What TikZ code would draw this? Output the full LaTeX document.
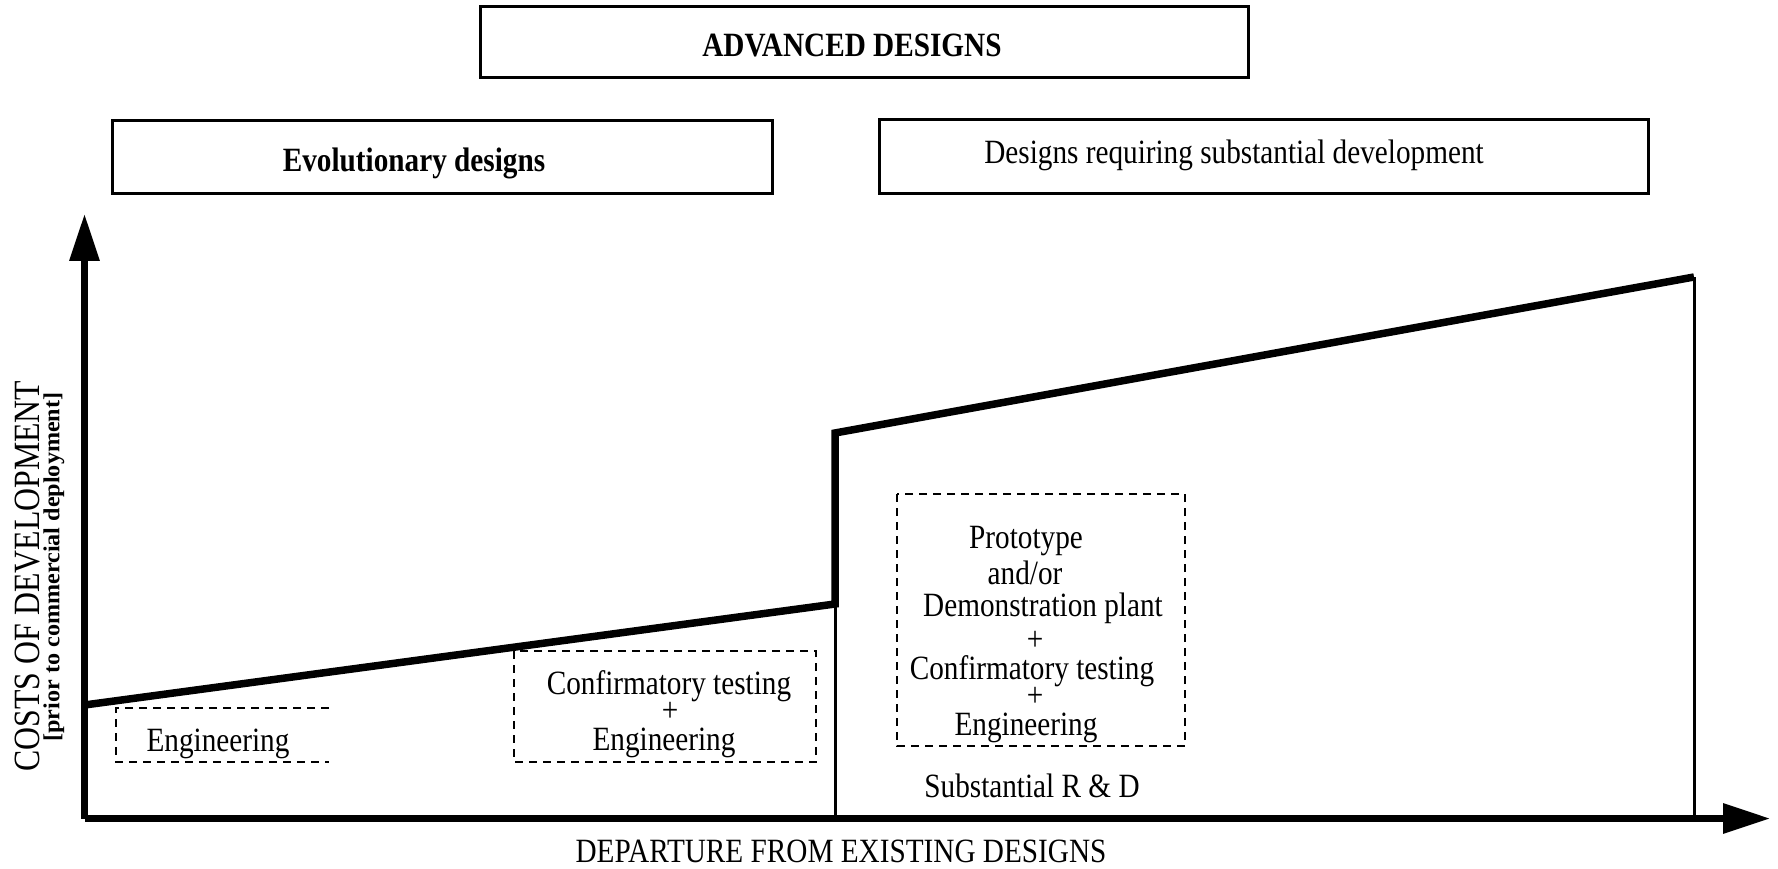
\documentclass[tikz,border=0pt]{standalone}
\usepackage{fontspec}
\setmainfont{Liberation Serif}[FakeStretch=0.86]
\newfontfamily\widefont{Liberation Serif}[FakeStretch=1.05]
\usetikzlibrary{arrows.meta}
\begin{document}
\begin{tikzpicture}[x=1pt,y=-1pt,
  titlebox/.style={draw, line width=3pt, inner sep=0pt},
  dashbox/.style={line width=1.4pt, dash pattern=on 8pt off 6pt},
  lbl/.style={font=\fontsize{34}{31}\selectfont, align=center, inner sep=0pt},
  bl/.style={lbl, anchor=base},
  blbl/.style={lbl, font=\fontsize{34}{31}\selectfont\bfseries},
  curve/.style={line width=7.5pt, line join=miter},
  thin/.style={line width=3pt},
  axis/.style={line width=6.5pt, -{Triangle[length=47pt,width=29pt]}}]
\useasboundingbox (0,0) rectangle (1778,869);
% header boxes
\node[titlebox, minimum width=768pt, minimum height=71pt] (adv) at (864,42.5) {};
\node[blbl] (advt) at (852,46) {ADVANCED DESIGNS};
\node[titlebox, minimum width=660pt, minimum height=73pt] (evo) at (442,157.5) {};
\node[blbl] (evot) at (414,163) {Evolutionary designs};
\node[titlebox, minimum width=769pt, minimum height=74pt] (sub) at (1263.5,157) {};
\node[lbl] (subt) at (1234,155) {Designs requiring substantial development};
% axes
\coordinate (origin) at (84.5,818.5);
\coordinate (ytip) at (84.5,214);
\coordinate (xtip) at (1770,818.5);
\draw[axis] (origin) -- (ytip);
\draw[axis] (origin) -- (xtip);
% cost curve
\coordinate (c0) at (84.5,705);
\coordinate (c1) at (835,604);
\coordinate (c2) at (835,433);
\coordinate (c3) at (1694,277);
\coordinate (b1) at (835,818.5);
\coordinate (b3) at (1694,818.5);
\draw[thin] (c1) -- (b1);
\draw[thin] (c3) -- (b3);
\draw[curve] (c0) -- (c1) -- (c2) -- (c3);
% dashed boxes
\coordinate (e1) at (329,708);
\coordinate (e2) at (116,708);
\coordinate (e3) at (116,762);
\coordinate (e4) at (329,762);
\draw[dashbox] (e1) -- (e2) -- (e3) -- (e4);
\draw[dashbox] (514,651) rectangle (816,762);
\draw[dashbox] (897,494) rectangle (1185,746);
% texts
\node[lbl] (eng) at (218,744) {Engineering};
\node[bl] (conf1) at (669,694) {Confirmatory testing};
\node[bl] (conf2) at (670,721) {+};
\node[bl] (conf3) at (664,750) {Engineering};
\node[bl] (p1) at (1026,548) {Prototype};
\node[bl] (p2) at (1025,584.5) {and/or};
\node[bl] (p3) at (1043,616) {Demonstration plant};
\node[bl] (p4) at (1035,650) {+};
\node[bl] (p5) at (1032,679) {Confirmatory testing};
\node[bl] (p6) at (1035,706) {+};
\node[bl] (p7) at (1026,735) {Engineering};
\node[lbl] (rd) at (1032,786) {Substantial R \& D};
% axis labels
\node[lbl] (xl) at (841,851) {DEPARTURE FROM EXISTING DESIGNS};
\node[lbl, rotate=90, font=\fontsize{37}{31}\selectfont] (yl) at (28,576) {COSTS OF DEVELOPMENT};
\node[lbl, rotate=90, font=\widefont\fontsize{23}{23}\selectfont\bfseries] (yl2) at (54,567) {[prior to commercial deployment]};
\end{tikzpicture}
\end{document}
